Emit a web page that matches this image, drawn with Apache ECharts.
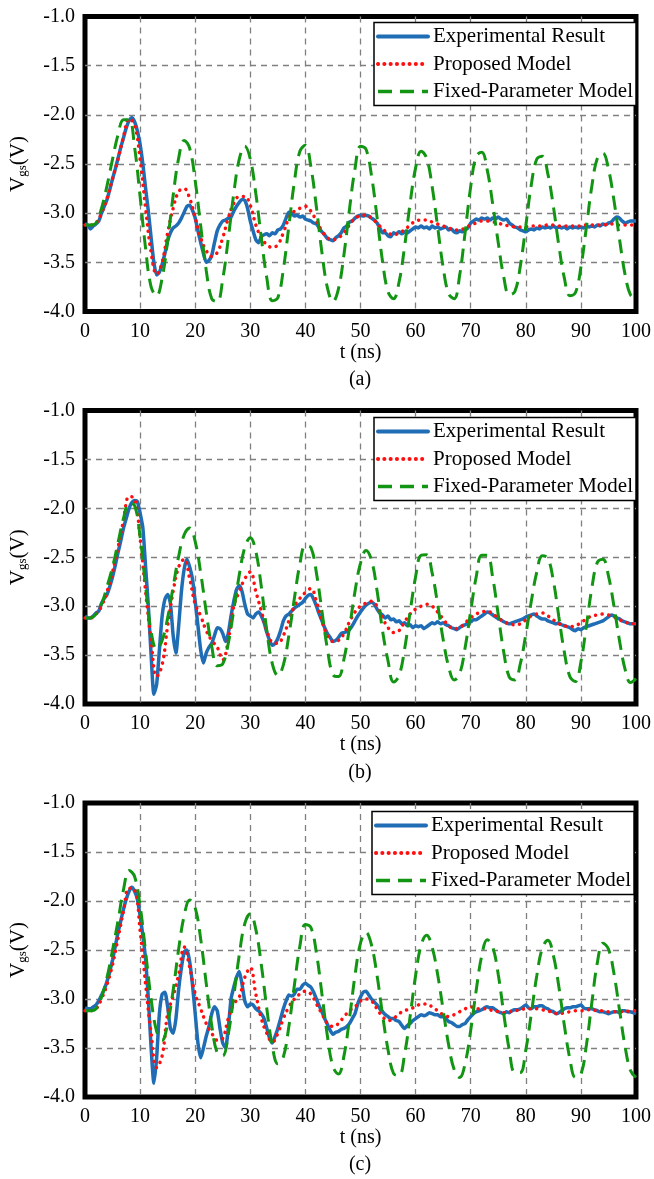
<!DOCTYPE html>
<html><head><meta charset="utf-8">
<script src="https://cdn.jsdelivr.net/npm/echarts@6/dist/echarts.min.js"></script>
<style>html,body{margin:0;padding:0;background:#fff}#c{width:654px;height:1179px}</style>
</head><body><div id="c"></div>
<script>
// ---- tick labels / names ----
var xTicks = [0,10,20,30,40,50,60,70,80,90,100];
var yTicks = [-4.0,-3.5,-3.0,-2.5,-2.0,-1.5,-1.0];
var seriesNames = ['Experimental Result','Proposed Model','Fixed-Parameter Model'];
var panelLabels = ['(a)','(b)','(c)'];

// ---- sample times (ns) ----
var tGrid = []; for (var i = 0; i <= 100; i++) tGrid.push(i);
var tHalf = []; for (var j = 0; j <= 200; j++) tHalf.push(j / 2);

// ---- panel (a) ----
var expA = [-3.11,-3.12,-3.16,-3.13,-3.11,-3.08,-3.0,-2.93,-2.86,-2.76,-2.65,-2.55,-2.44,-2.33,-2.23,-2.13,-2.06,-2.03,-2.07,-2.16,
-2.3,-2.5,-2.75,-2.98,-3.25,-3.5,-3.63,-3.6,-3.52,-3.41,-3.28,-3.2,-3.15,-3.13,-3.1,-3.05,-2.99,-2.93,-2.92,-2.97,
-3.05,-3.18,-3.3,-3.41,-3.5,-3.48,-3.43,-3.3,-3.18,-3.12,-3.08,-3.07,-3.05,-3.04,-2.98,-2.93,-2.89,-2.86,-2.87,-2.95,
-3.08,-3.18,-3.27,-3.3,-3.24,-3.22,-3.21,-3.23,-3.2,-3.21,-3.17,-3.16,-3.12,-3.05,-2.99,-3.0,-3.03,-3.02,-3.04,-3.03,
-3.06,-3.07,-3.08,-3.1,-3.11,-3.15,-3.19,-3.22,-3.26,-3.27,-3.28,-3.25,-3.23,-3.2,-3.15,-3.13,-3.09,-3.08,-3.05,-3.03,
-3.02,-3.03,-3.02,-3.03,-3.05,-3.07,-3.1,-3.15,-3.2,-3.2,-3.23,-3.24,-3.2,-3.21,-3.19,-3.21,-3.19,-3.2,-3.18,-3.16,
-3.14,-3.15,-3.13,-3.15,-3.14,-3.16,-3.13,-3.15,-3.14,-3.16,-3.15,-3.14,-3.17,-3.16,-3.19,-3.2,-3.18,-3.19,-3.17,-3.15,
-3.1,-3.08,-3.06,-3.07,-3.05,-3.06,-3.05,-3.07,-3.05,-3.06,-3.04,-3.06,-3.07,-3.06,-3.1,-3.12,-3.14,-3.15,-3.17,-3.18,
-3.19,-3.17,-3.16,-3.17,-3.15,-3.16,-3.14,-3.15,-3.14,-3.15,-3.13,-3.15,-3.14,-3.15,-3.14,-3.16,-3.14,-3.15,-3.14,-3.15,
-3.14,-3.15,-3.13,-3.14,-3.13,-3.14,-3.12,-3.13,-3.11,-3.12,-3.1,-3.09,-3.06,-3.04,-3.05,-3.08,-3.1,-3.09,-3.08,-3.08,-3.08];
var propA = [-3.12,-3.12,-3.1,-3.0,-2.85,-2.65,-2.45,-2.22,-2.04,-2.1,-2.45,-2.95,-3.4,-3.62,-3.5,-3.2,-2.95,-2.78,-2.75,-2.85,
-3.05,-3.25,-3.38,-3.44,-3.4,-3.25,-3.05,-2.9,-2.83,-2.83,-2.92,-3.12,-3.25,-3.32,-3.35,-3.32,-3.2,-3.05,-2.98,-2.95,
-2.93,-2.98,-3.08,-3.18,-3.25,-3.27,-3.25,-3.2,-3.12,-3.05,-3.03,-3.02,-3.05,-3.1,-3.16,-3.2,-3.22,-3.2,-3.17,-3.12,
-3.08,-3.07,-3.07,-3.09,-3.11,-3.13,-3.15,-3.17,-3.17,-3.15,-3.12,-3.1,-3.08,-3.08,-3.09,-3.1,-3.12,-3.13,-3.14,-3.14,
-3.14,-3.13,-3.13,-3.13,-3.12,-3.12,-3.13,-3.13,-3.13,-3.13,-3.13,-3.12,-3.12,-3.12,-3.12,-3.11,-3.11,-3.12,-3.12,-3.12,-3.12];
var fixA = [-3.12,-3.12,-3.1,-2.95,-2.72,-2.45,-2.2,-2.05,-2.05,-2.33,-2.83,-3.36,-3.75,-3.84,-3.66,-3.28,-2.82,-2.44,-2.26,-2.34,
-2.67,-3.13,-3.58,-3.87,-3.9,-3.67,-3.26,-2.8,-2.45,-2.32,-2.45,-2.8,-3.25,-3.66,-3.89,-3.86,-3.57,-3.13,-2.68,-2.37,
-2.31,-2.53,-2.94,-3.4,-3.76,-3.9,-3.77,-3.42,-2.96,-2.55,-2.32,-2.35,-2.62,-3.04,-3.49,-3.8,-3.87,-3.7,-3.34,-2.9,
-2.54,-2.37,-2.44,-2.73,-3.14,-3.55,-3.82,-3.87,-3.63,-3.19,-2.73,-2.42,-2.38,-2.56,-2.91,-3.3,-3.65,-3.83,-3.8,-3.54,
-3.13,-2.71,-2.45,-2.42,-2.6,-2.93,-3.33,-3.66,-3.84,-3.81,-3.55,-3.14,-2.72,-2.44,-2.39,-2.55,-2.87,-3.26,-3.62,-3.83,-3.87];

// ---- panel (b) ----
var expB = [-3.1,-3.12,-3.12,-3.1,-3.07,-3.05,-2.97,-2.92,-2.88,-2.8,-2.7,-2.58,-2.45,-2.33,-2.2,-2.1,-2.0,-1.94,-1.92,-1.93,
-2.05,-2.2,-2.6,-3.0,-3.5,-3.9,-3.8,-3.45,-3.1,-2.93,-2.88,-2.97,-3.3,-3.48,-3.2,-2.85,-2.62,-2.52,-2.6,-2.72,
-2.95,-3.2,-3.45,-3.58,-3.48,-3.42,-3.38,-3.3,-3.22,-3.23,-3.28,-3.36,-3.28,-3.1,-2.95,-2.83,-2.79,-2.85,-2.98,-3.08,
-3.1,-3.12,-3.08,-3.06,-3.1,-3.17,-3.27,-3.35,-3.4,-3.38,-3.33,-3.25,-3.15,-3.1,-3.08,-3.05,-3.02,-3.0,-2.98,-2.96,
-2.92,-2.89,-2.88,-2.93,-3.0,-3.08,-3.15,-3.22,-3.28,-3.32,-3.36,-3.35,-3.32,-3.28,-3.27,-3.26,-3.24,-3.2,-3.15,-3.1,
-3.06,-3.02,-2.99,-2.97,-2.96,-2.98,-3.03,-3.07,-3.09,-3.12,-3.1,-3.14,-3.13,-3.16,-3.15,-3.18,-3.17,-3.2,-3.19,-3.22,
-3.2,-3.21,-3.2,-3.23,-3.21,-3.19,-3.17,-3.18,-3.16,-3.18,-3.17,-3.19,-3.2,-3.22,-3.23,-3.24,-3.22,-3.2,-3.19,-3.17,
-3.16,-3.14,-3.14,-3.12,-3.1,-3.08,-3.06,-3.07,-3.09,-3.11,-3.13,-3.14,-3.16,-3.17,-3.18,-3.17,-3.16,-3.15,-3.14,-3.13,
-3.11,-3.1,-3.09,-3.08,-3.1,-3.12,-3.13,-3.13,-3.15,-3.16,-3.17,-3.18,-3.17,-3.19,-3.2,-3.21,-3.22,-3.24,-3.25,-3.23,
-3.24,-3.22,-3.21,-3.2,-3.19,-3.18,-3.17,-3.16,-3.15,-3.13,-3.11,-3.09,-3.1,-3.12,-3.13,-3.15,-3.16,-3.17,-3.18,-3.18,-3.18];
var propB = [-3.12,-3.12,-3.08,-3.0,-2.85,-2.65,-2.4,-2.12,-1.88,-1.9,-2.3,-2.85,-3.35,-3.72,-3.6,-3.2,-2.85,-2.6,-2.52,-2.72,
-2.98,-3.1,-3.25,-3.35,-3.42,-3.55,-3.35,-3.0,-2.85,-2.72,-2.65,-2.85,-3.05,-3.25,-3.37,-3.38,-3.3,-3.15,-3.0,-2.92,
-2.86,-2.82,-2.95,-3.15,-3.3,-3.36,-3.35,-3.28,-3.16,-3.06,-3.0,-2.97,-2.95,-3.0,-3.12,-3.22,-3.27,-3.25,-3.16,-3.08,
-3.03,-3.0,-2.98,-3.0,-3.06,-3.13,-3.2,-3.23,-3.22,-3.17,-3.12,-3.08,-3.06,-3.05,-3.08,-3.12,-3.16,-3.18,-3.19,-3.18,
-3.14,-3.1,-3.08,-3.07,-3.1,-3.14,-3.18,-3.2,-3.21,-3.2,-3.17,-3.13,-3.1,-3.09,-3.08,-3.09,-3.11,-3.14,-3.16,-3.18,-3.18];
var fixB = [-3.12,-3.12,-3.08,-2.98,-2.8,-2.6,-2.35,-2.1,-1.95,-1.97,-2.29,-2.8,-3.26,-3.44,-3.35,-3.12,-2.8,-2.49,-2.27,-2.2,
-2.34,-2.66,-3.06,-3.41,-3.61,-3.59,-3.38,-3.04,-2.68,-2.4,-2.3,-2.44,-2.8,-3.25,-3.59,-3.71,-3.6,-3.3,-2.92,-2.57,
-2.38,-2.4,-2.66,-3.05,-3.44,-3.7,-3.72,-3.54,-3.22,-2.85,-2.56,-2.43,-2.53,-2.84,-3.25,-3.56,-3.775,-3.71,-3.44,-3.06,
-2.7,-2.48,-2.475,-2.66,-2.98,-3.34,-3.62,-3.755,-3.69,-3.42,-3.05,-2.7,-2.48,-2.48,-2.71,-3.09,-3.47,-3.725,-3.755,-3.59,
-3.29,-2.95,-2.65,-2.485,-2.51,-2.74,-3.11,-3.47,-3.72,-3.77,-3.57,-3.2,-2.81,-2.55,-2.52,-2.69,-3.0,-3.35,-3.64,-3.78,-3.74];

// ---- panel (c) ----
var expC = [-3.09,-3.1,-3.1,-3.08,-3.06,-3.02,-2.96,-2.9,-2.82,-2.72,-2.6,-2.46,-2.32,-2.2,-2.08,-1.98,-1.9,-1.86,-1.9,-1.98,
-2.15,-2.35,-2.6,-3.0,-3.5,-3.86,-3.6,-3.15,-2.95,-2.93,-3.08,-3.3,-3.35,-3.2,-2.9,-2.68,-2.52,-2.5,-2.62,-2.85,
-3.15,-3.45,-3.6,-3.5,-3.38,-3.28,-3.15,-3.08,-3.12,-3.3,-3.45,-3.5,-3.3,-3.0,-2.88,-2.78,-2.72,-2.85,-3.02,-3.08,
-3.05,-3.06,-3.1,-3.12,-3.15,-3.2,-3.3,-3.4,-3.45,-3.38,-3.3,-3.2,-3.1,-3.02,-2.96,-2.97,-2.95,-2.9,-2.9,-2.86,
-2.84,-2.86,-2.88,-2.93,-3.0,-3.07,-3.13,-3.2,-3.26,-3.32,-3.36,-3.34,-3.33,-3.31,-3.3,-3.28,-3.25,-3.2,-3.15,-3.05,
-2.98,-2.93,-2.92,-2.96,-3.0,-3.03,-3.06,-3.1,-3.13,-3.16,-3.18,-3.2,-3.2,-3.22,-3.23,-3.27,-3.3,-3.27,-3.25,-3.22,
-3.2,-3.18,-3.16,-3.17,-3.16,-3.14,-3.15,-3.16,-3.16,-3.18,-3.18,-3.2,-3.23,-3.24,-3.26,-3.28,-3.28,-3.26,-3.25,-3.21,
-3.18,-3.15,-3.13,-3.12,-3.11,-3.09,-3.08,-3.09,-3.09,-3.11,-3.13,-3.14,-3.15,-3.13,-3.14,-3.12,-3.11,-3.11,-3.1,-3.08,
-3.06,-3.09,-3.1,-3.08,-3.08,-3.07,-3.07,-3.09,-3.1,-3.12,-3.13,-3.15,-3.14,-3.12,-3.1,-3.09,-3.09,-3.08,-3.08,-3.07,
-3.06,-3.09,-3.1,-3.1,-3.1,-3.11,-3.12,-3.13,-3.13,-3.14,-3.15,-3.14,-3.13,-3.13,-3.14,-3.12,-3.12,-3.13,-3.13,-3.14,-3.15];
var propC = [-3.12,-3.12,-3.1,-3.0,-2.85,-2.65,-2.38,-2.1,-1.87,-1.88,-2.3,-2.85,-3.35,-3.7,-3.58,-3.15,-2.97,-2.75,-2.47,-2.68,
-2.95,-3.1,-3.25,-3.35,-3.42,-3.4,-3.2,-3.05,-2.98,-2.78,-2.68,-2.95,-3.2,-3.35,-3.44,-3.35,-3.2,-3.08,-3.0,-2.95,
-2.92,-2.95,-3.05,-3.15,-3.25,-3.28,-3.25,-3.18,-3.12,-3.08,-3.02,-3.0,-3.02,-3.1,-3.18,-3.22,-3.2,-3.15,-3.12,-3.1,
-3.08,-3.05,-3.05,-3.08,-3.12,-3.16,-3.18,-3.16,-3.13,-3.1,-3.08,-3.1,-3.1,-3.1,-3.12,-3.13,-3.14,-3.13,-3.12,-3.11,
-3.1,-3.1,-3.1,-3.11,-3.12,-3.14,-3.15,-3.14,-3.13,-3.12,-3.12,-3.11,-3.11,-3.12,-3.12,-3.13,-3.13,-3.13,-3.13,-3.12,-3.12];
var fixC = [-3.12,-3.12,-3.1,-2.98,-2.78,-2.5,-2.2,-1.88,-1.69,-1.75,-2.05,-2.52,-3.0,-3.33,-3.42,-3.25,-2.91,-2.49,-2.15,-1.99,
-2.07,-2.39,-2.84,-3.27,-3.55,-3.58,-3.36,-2.97,-2.55,-2.23,-2.13,-2.29,-2.65,-3.1,-3.48,-3.66,-3.59,-3.28,-2.86,-2.46,
-2.24,-2.27,-2.53,-2.95,-3.38,-3.69,-3.765,-3.58,-3.2,-2.76,-2.43,-2.32,-2.45,-2.76,-3.16,-3.52,-3.76,-3.78,-3.565,-3.18,
-2.76,-2.45,-2.35,-2.47,-2.75,-3.11,-3.47,-3.72,-3.8,-3.655,-3.32,-2.91,-2.56,-2.395,-2.47,-2.75,-3.15,-3.52,-3.75,-3.75,
-3.52,-3.15,-2.76,-2.48,-2.4,-2.555,-2.875,-3.27,-3.61,-3.8,-3.77,-3.47,-3.03,-2.625,-2.43,-2.49,-2.74,-3.11,-3.48,-3.73,-3.8];

var panels = [
  {exp: expA, prop: propA, fix: fixA, top: 16.5, height: 295, legendTop: 22.5, legendLeft: 374, cap: 380},
  {exp: expB, prop: propB, fix: fixB, top: 410.5, height: 293.5, legendTop: 417.5, legendLeft: 374, cap: 773},
  {exp: expC, prop: propC, fix: fixC, top: 803, height: 294, legendTop: 811.5, legendLeft: 372, cap: 1165}
];

function pairs(ts, vs){ var out=[]; for (var k=0;k<vs.length;k++) out.push([ts[k], vs[k]]); return out; }

var FONT = 'Liberation Serif';
var BLUE = '#1f6db4', RED = '#ff1010', GREEN = '#129512';
var styleExp = {color: BLUE, width: 3.5};
var styleProp = {color: RED, width: 3.5, type: [0.1, 6.5], cap: 'round'};
var styleFix = {color: GREEN, width: 3, type: [14, 8]};
var gridLine = {color: '#808080', width: 1.3, type: [6,5]};
var legendData = [
  {name: seriesNames[0], lineStyle: {color: BLUE, width: 4, type: 'solid', cap: 'round'}},
  {name: seriesNames[1], lineStyle: {color: RED, width: 4, type: [0.1, 6.2], cap: 'round'}},
  {name: seriesNames[2], lineStyle: {color: GREEN, width: 3.5, type: [14, 8], cap: 'butt'}}
];
var grids=[], xAxes=[], yAxes=[], series=[], legends=[], graphics=[];
panels.forEach(function(p, gi){
  grids.push({left: 83.5, width: 552.5, top: p.top, height: p.height, show: true,
    borderColor: '#000', borderWidth: 5, backgroundColor: 'transparent'});
  xAxes.push({gridIndex: gi, type: 'value', min: 0, max: 100, interval: 10,
    axisLine: {show: false}, axisTick: {show: false},
    axisLabel: {margin: 10, color: '#000', fontFamily: FONT, fontSize: 20},
    splitLine: {show: true, showMinLine: false, showMaxLine: false, lineStyle: gridLine},
    name: 't (ns)', nameLocation: 'middle', nameGap: 28,
    nameTextStyle: {color: '#000', fontFamily: FONT, fontSize: 20}});
  yAxes.push({gridIndex: gi, type: 'value', min: -4, max: -1, interval: 0.5,
    axisLine: {show: false}, axisTick: {show: false},
    axisLabel: {margin: 10, color: '#000', fontFamily: FONT, fontSize: 20,
      formatter: function(v){ return v.toFixed(1); }},
    splitLine: {show: true, showMinLine: false, showMaxLine: false, lineStyle: gridLine},
    name: '{a|V}{b|gs}{a|(V)}', nameLocation: 'middle', nameGap: 56, nameRotate: 90,
    nameTextStyle: {color: '#000', fontFamily: FONT, fontSize: 21,
      rich: {a: {fontFamily: FONT, fontSize: 21, lineHeight: 24, verticalAlign: 'bottom', color: '#000'},
             b: {fontFamily: FONT, fontSize: 13, lineHeight: 13, verticalAlign: 'bottom', color: '#000'}}}});
  series.push({name: seriesNames[0], type: 'line', xAxisIndex: gi, yAxisIndex: gi,
    data: pairs(tHalf, p.exp), showSymbol: false, symbol: 'none', smooth: 0.2,
    lineStyle: styleExp, itemStyle: {color: BLUE}, z: 2});
  series.push({name: seriesNames[1], type: 'line', xAxisIndex: gi, yAxisIndex: gi,
    data: pairs(tGrid, p.prop), showSymbol: false, symbol: 'none', smooth: 0.4,
    lineStyle: styleProp, itemStyle: {color: RED}, z: 3});
  series.push({name: seriesNames[2], type: 'line', xAxisIndex: gi, yAxisIndex: gi,
    data: pairs(tGrid, p.fix), showSymbol: false, symbol: 'none', smooth: 0.4,
    lineStyle: styleFix, itemStyle: {color: GREEN}, z: 4});
  legends.push({show: true, orient: 'vertical', left: p.legendLeft, top: p.legendTop,
    data: legendData, itemWidth: 50, itemHeight: 14, itemGap: 5.5,
    padding: [3, 3, 3, 2], borderColor: '#000', borderWidth: 1.5, backgroundColor: '#fff',
    selectedMode: false, itemStyle: {opacity: 0, borderWidth: 0},
    textStyle: {color: '#000', fontFamily: FONT, fontSize: 21, lineHeight: 22}});
  graphics.push({type: 'text', x: 360, y: p.cap, style: {text: panelLabels[gi], x: 0, y: 0,
    align: 'center', verticalAlign: 'middle', font: '20px "Liberation Serif"', fill: '#000'}});
});

var chart = echarts.init(document.getElementById('c'), null, {renderer: 'canvas'});
chart.setOption({animation: false, grid: grids, xAxis: xAxes, yAxis: yAxes,
  series: series, legend: legends, graphic: graphics});
</script></body></html>
